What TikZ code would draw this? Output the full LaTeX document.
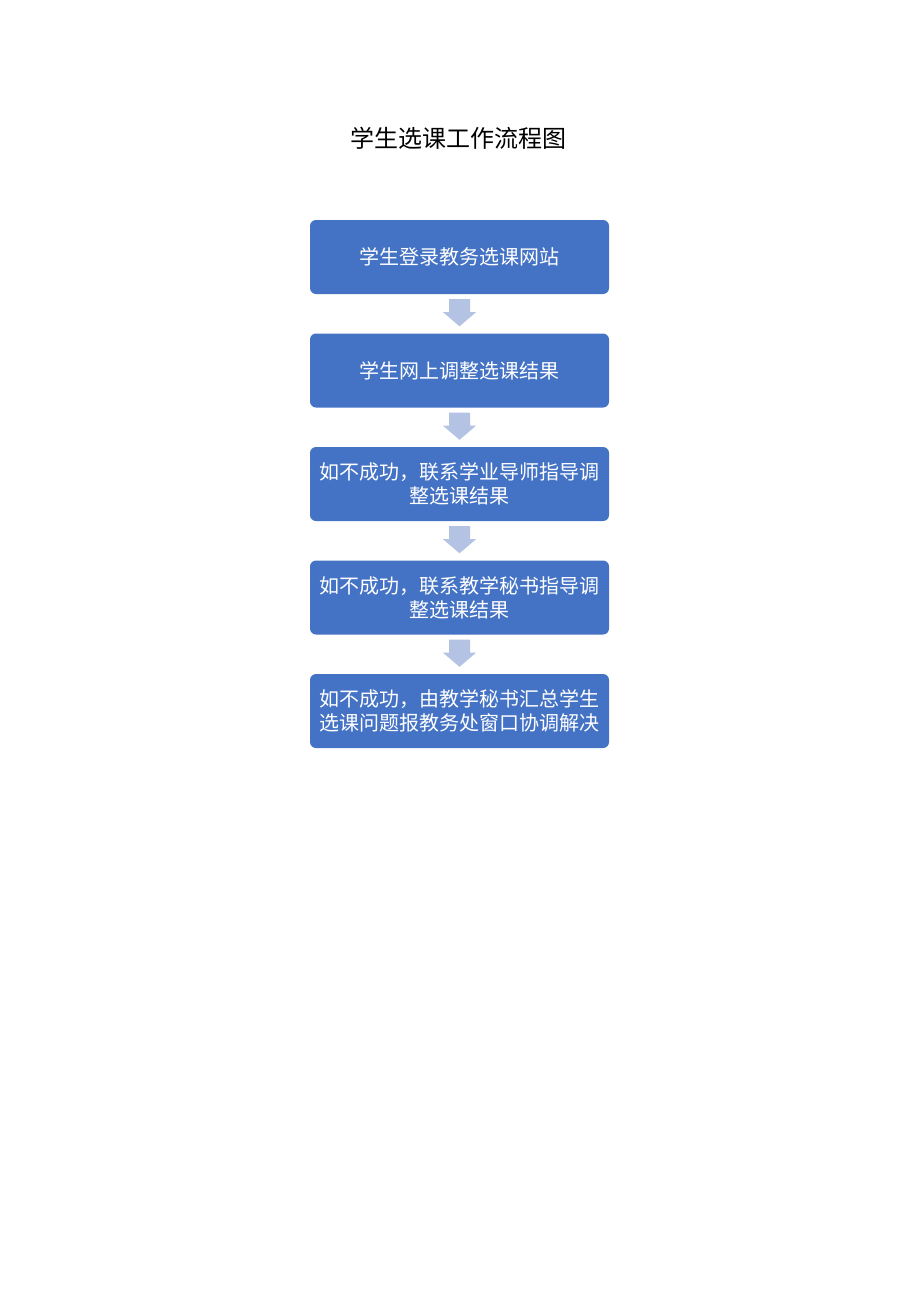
\documentclass[tikz,border=0pt]{standalone}
\usepackage{fontspec}
\newfontfamily\cjk{Noto Sans CJK SC}
\usetikzlibrary{calc}
\definecolor{boxblue}{HTML}{4472C4}
\definecolor{arrowc}{HTML}{B4C3E4}
\tikzset{
  stepbox/.style={fill=boxblue, rounded corners=6pt, minimum width=299pt, minimum height=74pt,
    text=white, font=\cjk\fontsize{20}{24}\selectfont, align=center, inner sep=0pt},
  blockarrow/.style={fill=arrowc},
}
\newcommand{\flowarrow}[2]{%
  \fill[blockarrow] ($(#1.south)+(-10.5,5)$) -- ++(21,0) -- ++(0,13) -- ++(6,0)
    -- ($(#2.north)+(0,-7)$) -- ($(#1.south)+(-16.5,18)$) -- ++(6,0) -- cycle;}
\begin{document}
\begin{tikzpicture}[x=1pt,y=-1pt]
\useasboundingbox[fill=white] (0,0) rectangle (920,1301);
\node[font=\cjk\fontsize{24}{28}\selectfont] (title) at (458,138) {学生选课工作流程图};
\node[stepbox] (s1) at (459.5,257) {学生登录教务选课网站};
\node[stepbox] (s2) at (459.5,370.5) {学生网上调整选课结果};
\node[stepbox] (s3) at (459.5,484) {如不成功，联系学业导师指导调\\整选课结果};
\node[stepbox] (s4) at (459.5,597.5) {如不成功，联系教学秘书指导调\\整选课结果};
\node[stepbox] (s5) at (459.5,711) {如不成功，由教学秘书汇总学生\\选课问题报教务处窗口协调解决};
\flowarrow{s1}{s2}
\flowarrow{s2}{s3}
\flowarrow{s3}{s4}
\flowarrow{s4}{s5}
\end{tikzpicture}
\end{document}
